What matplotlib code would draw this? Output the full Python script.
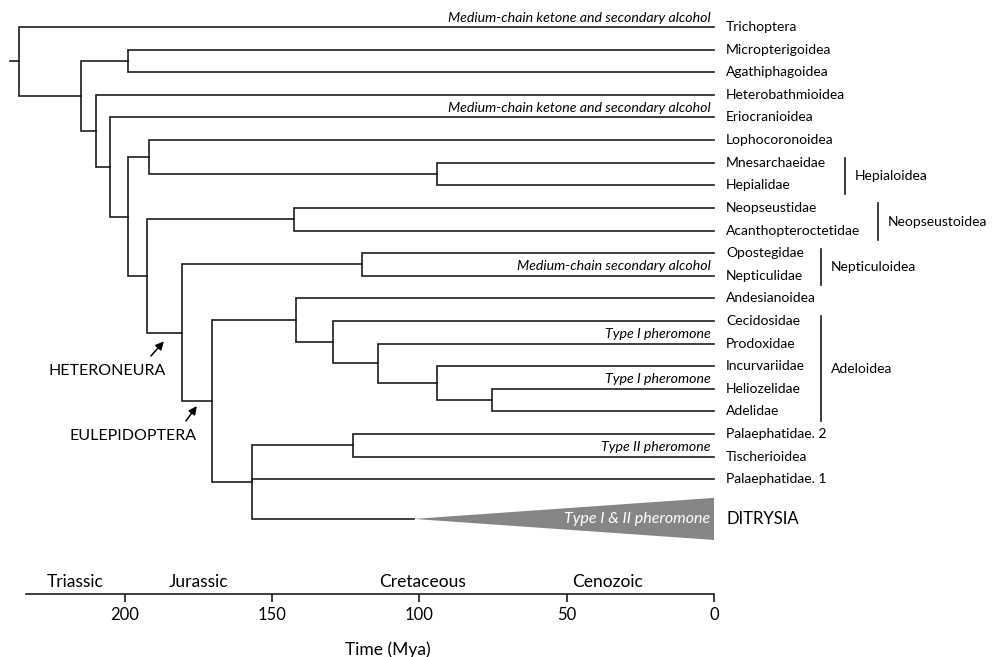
import matplotlib
matplotlib.use("Agg")
import matplotlib.pyplot as plt
from matplotlib.patches import Polygon

plt.rcParams['font.family'] = ['Lato', 'DejaVu Sans']

# tip taxa, top to bottom
tips = ["Trichoptera", "Micropterigoidea", "Agathiphagoidea", "Heterobathmioidea",
        "Eriocranioidea", "Lophocoronoidea", "Mnesarchaeidae", "Hepialidae",
        "Neopseustidae", "Acanthopteroctetidae", "Opostegidae", "Nepticulidae",
        "Andesianoidea", "Cecidosidae", "Prodoxidae", "Incurvariidae", "Heliozelidae",
        "Adelidae", "Palaephatidae. 2", "Tischerioidea", "Palaephatidae. 1", "DITRYSIA"]

# internal nodes: name, age (Mya), children
node_names = ["root", "a", "mic", "b", "c", "d", "lop", "hep", "e", "neo", "f",
              "nep", "g", "h", "i", "j", "k", "l", "m", "pt"]
node_ages = [236, 215, 199, 210, 205, 199, 192, 94, 192.5, 142.5, 180.5,
             119.5, 170.5, 142, 129.5, 114, 94, 75.5, 157, 122.5]
node_children = [
    ["Trichoptera", "a"],
    ["mic", "b"],
    ["Micropterigoidea", "Agathiphagoidea"],
    ["Heterobathmioidea", "c"],
    ["Eriocranioidea", "d"],
    ["lop", "e"],
    ["Lophocoronoidea", "hep"],
    ["Mnesarchaeidae", "Hepialidae"],
    ["neo", "f"],
    ["Neopseustidae", "Acanthopteroctetidae"],
    ["nep", "g"],
    ["Opostegidae", "Nepticulidae"],
    ["h", "m"],
    ["Andesianoidea", "i"],
    ["Cecidosidae", "j"],
    ["Prodoxidae", "k"],
    ["Incurvariidae", "l"],
    ["Heliozelidae", "Adelidae"],
    ["pt", "Palaephatidae. 1", "DITRYSIA"],
    ["Palaephatidae. 2", "Tischerioidea"],
]
root_stub_age = 239
ditrysia_start = 102  # collapsed clade starts here

# trait annotations on branches
annot_texts = ["Medium-chain ketone and secondary alcohol",
               "Medium-chain ketone and secondary alcohol",
               "Medium-chain secondary alcohol",
               "Type I pheromone", "Type I pheromone", "Type II pheromone"]
annot_tips = ["Trichoptera", "Eriocranioidea", "Nepticulidae",
              "Prodoxidae", "Heliozelidae", "Tischerioidea"]

# superfamily brackets
group_names = ["Hepialoidea", "Neopseustoidea", "Nepticuloidea", "Adeloidea"]
group_first = ["Mnesarchaeidae", "Neopseustidae", "Opostegidae", "Cecidosidae"]
group_last = ["Hepialidae", "Acanthopteroctetidae", "Nepticulidae", "Adelidae"]
group_x = [-44.5, -55.7, -36.3, -36.3]

# geological periods
periods = ["Triassic", "Jurassic", "Cretaceous", "Cenozoic"]
period_mid = [217, 175, 99, 36]
ticks = [200, 150, 100, 50, 0]

# --- positions ---
ypos = {t: float(i) for i, t in enumerate(tips)}
ypos["DITRYSIA"] = 21.75
age = {t: 0.0 for t in tips}
age["DITRYSIA"] = ditrysia_start
children = dict(zip(node_names, node_children))
age.update(dict(zip(node_names, node_ages)))


def get_y(n):
    if n not in ypos:
        ys = [get_y(c) for c in children[n]]
        ypos[n] = (ys[0] + ys[-1]) / 2
    return ypos[n]


get_y("root")

fig = plt.figure(figsize=(10, 6.57), dpi=100)
ax = fig.add_axes([0.026, 1 - 594 / 657, 0.688, 594 / 657])
ax.set_xlim(233.6, 0)
ax.set_ylim(25.07, -1.194)

lc = '#1e1e1e'
lw = 1.2
for n in node_names:
    for c in children[n]:
        ax.plot([age[n], age[n], age[c]], [ypos[n], ypos[c], ypos[c]],
                color=lc, lw=lw, solid_joinstyle='miter', clip_on=False)
ax.plot([root_stub_age, age["root"]], [ypos["root"]] * 2, color=lc, lw=lw, clip_on=False)

# collapsed Ditrysia
yd = ypos["DITRYSIA"]
tri = Polygon([(ditrysia_start, yd), (0, yd - 0.93), (0, yd + 0.93)],
              closed=True, facecolor='#858585', edgecolor='none', clip_on=False)
ax.add_patch(tri)
ax.text(1.2, yd, "Type I & II pheromone", ha='right', va='center', style='italic',
        color='white', fontsize=11.5)

# tip labels
for t in tips:
    fs = 12 if t == "DITRYSIA" else 10
    ax.text(-4.1, ypos[t], t, ha='left', va='center', fontsize=fs, clip_on=False)

for txt, t in zip(annot_texts, annot_tips):
    ax.text(1.2, ypos[t] - 0.42, txt, ha='right', va='center', style='italic',
            fontsize=10.2, clip_on=False)

for g, f, l, gx in zip(group_names, group_first, group_last, group_x):
    ax.plot([gx, gx], [ypos[f] - 0.2, ypos[l] + 0.4], color=lc, lw=1.2, clip_on=False)
    ax.text(gx - 3.4, (ypos[f] + ypos[l]) / 2 + 0.1, g, ha='left', va='center',
            fontsize=10, clip_on=False)

# clade arrows
arrow_kw = dict(arrowstyle='-|>', color='black', lw=1.1, mutation_scale=12,
                shrinkA=0, shrinkB=0)
ax.annotate("", xy=(186.8, 13.9), xytext=(191.2, 14.55), arrowprops=arrow_kw)
ax.text(206, 15.2, "HETERONEURA", ha='center', va='center', fontsize=11.5, clip_on=False)
ax.annotate("", xy=(175.6, 16.76), xytext=(179.3, 17.42), arrowprops=arrow_kw)
ax.text(197.4, 18.08, "EULEPIDOPTERA", ha='center', va='center', fontsize=11.5, clip_on=False)

for p, m in zip(periods, period_mid):
    ax.text(m, 24.54, p, ha='center', va='center', fontsize=12.5, clip_on=False)

# time axis
for s in ['top', 'left', 'right']:
    ax.spines[s].set_visible(False)
ax.spines['bottom'].set_color(lc)
ax.spines['bottom'].set_linewidth(1.2)
ax.set_yticks([])
ax.set_xticks(ticks)
ax.set_xticklabels([str(t) for t in ticks])
ax.tick_params(axis='x', direction='out', length=5.5, width=1.2, color=lc,
               labelsize=12, pad=4)
fig.text(388 / 1000, 1 - 650 / 657, "Time (Mya)", ha='center', va='center', fontsize=12.5)

fig.savefig('out.png', dpi=100)
